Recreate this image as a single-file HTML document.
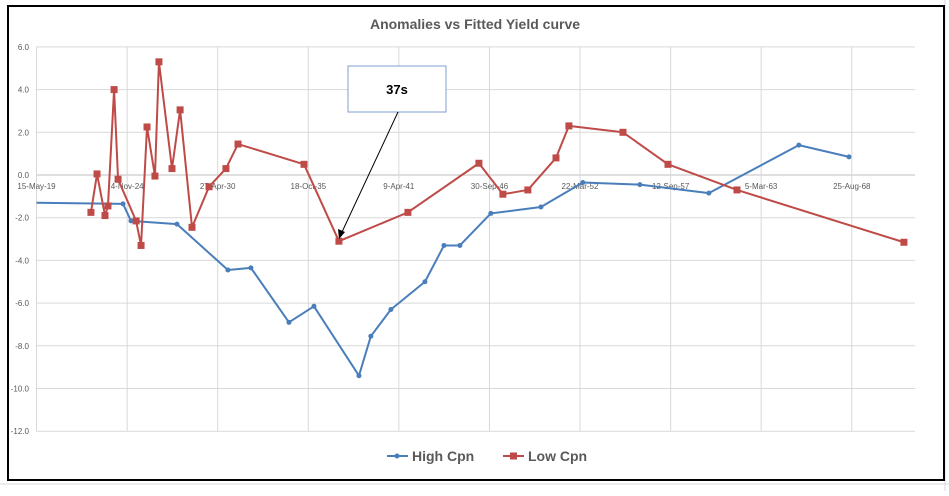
<!DOCTYPE html>
<html><head><meta charset="utf-8"><style>
body{margin:0;background:#fff;font-family:"Liberation Sans",sans-serif;}
svg text{font-family:"Liberation Sans",sans-serif;}
</style></head><body>
<svg id="c" width="949" height="491" xmlns="http://www.w3.org/2000/svg">
<rect x="0" y="0" width="949" height="491" fill="#fff"/>
<g stroke="#d9d9d9" stroke-width="1">
<line x1="0" y1="484" x2="949" y2="484"/>
<line x1="945" y1="0" x2="945" y2="491"/>
</g>
<rect x="8" y="6" width="936" height="474" fill="#fff" stroke="#000" stroke-width="2"/>
<text x="475" y="29" text-anchor="middle" font-size="14" font-weight="bold" fill="#595959">Anomalies vs Fitted Yield curve</text>
<g id="grid"></g><g id="axes"></g><g id="series"></g>
<g>
<rect x="348" y="66" width="98" height="46" fill="#fff" stroke="#7f9fd0" stroke-width="1"/>
<text x="397" y="94" text-anchor="middle" font-size="13" font-weight="bold" fill="#000">37s</text>
<line x1="398" y1="112" x2="342" y2="232" stroke="#000" stroke-width="1"/>
<polygon points="339,239 338,229 345,232" fill="#000"/>
</g>
<g>
<g>
<line x1="387" y1="456" x2="408" y2="456" stroke="#4a7ebb" stroke-width="2"/><circle cx="397" cy="456" r="2.5" fill="#4a7ebb"/>
<text x="412" y="461" font-size="14" font-weight="bold" fill="#595959">High Cpn</text></g>
<g>
<line x1="503" y1="456" x2="524" y2="456" stroke="#be4b48" stroke-width="2"/><rect x="510" y="452.5" width="7" height="7" fill="#be4b48"/>
<text x="528" y="461" font-size="14" font-weight="bold" fill="#595959">Low Cpn</text></g>
</g>
</svg>
<script>
const yTicks=[6,4,2,0,-2,-4,-6,-8,-10,-12];
const xTickYears=[2019.37,2024.85,2030.32,2035.80,2041.27,2046.75,2052.22,2057.70,2063.17,2068.65];
const xTickLabels=["15-May-19","4-Nov-24","27-Apr-30","18-Oct-35","9-Apr-41","30-Sep-46","22-Mar-52","12-Sep-57","5-Mar-63","25-Aug-68"];
const highX=[2019.37,2024.6,2025.08,2027.86,2030.94,2032.33,2034.63,2036.14,2038.86,2039.58,2040.79,2042.85,2044.0,2044.96,2046.83,2049.86,2052.39,2055.84,2060.01,2065.45,2068.48];
const highY=[-1.3,-1.35,-2.15,-2.3,-4.45,-4.35,-6.9,-6.15,-9.4,-7.55,-6.3,-5.0,-3.3,-3.3,-1.8,-1.5,-0.35,-0.45,-0.85,1.4,0.85];
const lowX=[2022.66,2023.03,2023.51,2023.69,2024.06,2024.3,2025.39,2025.69,2026.05,2026.53,2026.77,2027.56,2028.05,2028.77,2029.8,2030.82,2031.55,2035.54,2037.65,2041.82,2046.11,2047.56,2049.07,2050.77,2051.55,2054.82,2057.54,2061.71,2071.8];
const lowY=[-1.75,0.05,-1.9,-1.45,4.0,-0.2,-2.15,-3.3,2.25,-0.05,5.3,0.3,3.05,-2.45,-0.55,0.3,1.45,0.5,-3.1,-1.75,0.55,-0.9,-0.7,0.8,2.3,2.0,0.5,-0.7,-3.15];
const X0=36.5,X1=915,YR0=2019.37,YR1=2072.47,Y0=175,PPU=21.35;
const sx=v=>X0+(v-YR0)/(YR1-YR0)*(X1-X0);
const sy=v=>Y0-v*PPU;
const NS="http://www.w3.org/2000/svg";
function mk(t,a,p){const e=document.createElementNS(NS,t);for(const k in a)e.setAttribute(k,a[k]);p.appendChild(e);return e;}
const grid=document.getElementById('grid'),axes=document.getElementById('axes'),ser=document.getElementById('series');
yTicks.forEach(v=>{
 const l=mk('line',{x1:X0,x2:X1,y1:sy(v),y2:sy(v),stroke:v===0?'#bfbfbf':'#d9d9d9','stroke-width':1},grid);
 
 
 const t=mk('text',{x:29,y:sy(v)+3,'text-anchor':'end','font-size':8,fill:'#595959'},axes);
 t.textContent=v.toFixed(1);
 
 
});
xTickYears.forEach((v,i)=>{
 const l=mk('line',{x1:sx(v),x2:sx(v),y1:sy(6),y2:sy(-12),stroke:'#d9d9d9','stroke-width':1},grid);
 
 
 const t=mk('text',{x:sx(v),y:189,'text-anchor':'middle','font-size':8,fill:'#595959'},axes);
 t.textContent=xTickLabels[i];
 
 
});
function series(xs,ys,col,sq,name){
 const g=mk('g',{},ser);
 
 
 const pl=mk('polyline',{points:xs.map((x,i)=>sx(x)+','+sy(ys[i])).join(' '),fill:'none',stroke:col,'stroke-width':2,'stroke-linejoin':'round'},g);
 
 
 xs.forEach((x,i)=>{
  let m;
  if(sq){m=mk('rect',{x:sx(x)-3.5,y:sy(ys[i])-3.5,width:7,height:7,fill:col},g);}
  else{ if(i===0)return; m=mk('circle',{cx:sx(x),cy:sy(ys[i]),r:2.5,fill:col},g);}
  
  
 });
}
series(highX,highY,'#4a7ebb',false,'high-cpn');
series(lowX,lowY,'#be4b48',true,'low-cpn');
</script>
</body></html>
